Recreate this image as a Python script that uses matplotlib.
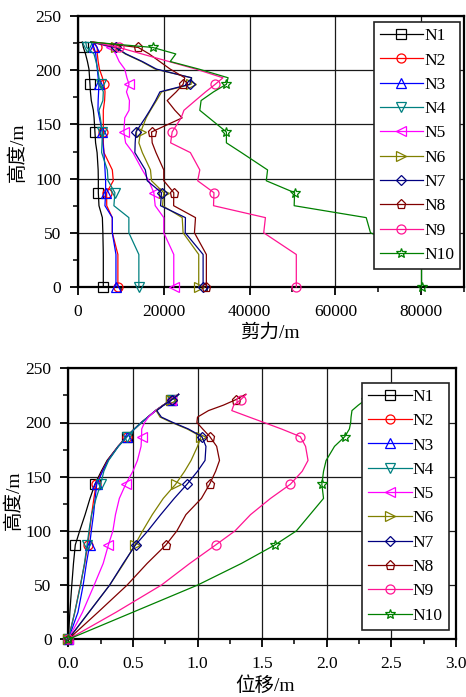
import matplotlib
matplotlib.use("Agg")
import matplotlib.pyplot as plt
from matplotlib.ticker import MultipleLocator, FixedLocator, FixedFormatter

plt.rcParams['font.family'] = ['Liberation Serif', 'Noto Sans CJK SC', 'DejaVu Sans']

# ---------------- data ----------------
series_names = ['N1', 'N2', 'N3', 'N4', 'N5', 'N6', 'N7', 'N8', 'N9', 'N10']
colors = ['#000000', '#FF0000', '#0000FF', '#008080', '#FF00FF',
          '#808000', '#000080', '#800000', '#FF1493', '#008000']
markers = ['s', 'o', '^', 'v', '<', '>', 'D', 'p', 'o', '*']

# shear force (top chart): heights (m)
shear_heights = [0, 30, 50, 64, 75, 87, 98, 108, 124, 133, 143, 156, 163, 172,
                 180, 187, 193, 201, 208, 215, 221, 226]
shear_N1 = [5900, 5900, 5800, 5680, 4890, 4740, 4740, 4700, 4450, 4100, 3950, 3750, 3580, 3100,
            2900, 2790, 2700, 2560, 2200, 1750, 1250, 1000]
shear_N2 = [9300, 9300, 8000, 8000, 6700, 6680, 8230, 8000, 6050, 5900, 5910, 5900, 5900, 6200,
            6300, 6050, 5700, 5000, 4700, 4500, 4500, 3500]
shear_N3 = [8850, 8850, 8000, 8000, 6280, 6440, 6440, 6300, 6050, 5800, 5680, 5000, 4650, 4700,
            4800, 4890, 4700, 4500, 4300, 4120, 3720, 3000]
shear_N4 = [14190, 14190, 11860, 11860, 8370, 8600, 7000, 6840, 5510, 5600, 5680, 5200, 4890, 5800,
            5900, 5280, 4890, 4600, 4200, 3720, 2020, 1800]
shear_N5 = [22330, 22330, 20000, 20000, 18000, 17680, 16500, 15000, 12800, 11100, 10700, 10900, 11900, 12000,
            11300, 11900, 11400, 10900, 9600, 8800, 7600, 3500]
shear_N6 = [28150, 28150, 24500, 24300, 19700, 20000, 17140, 16900, 15000, 14190, 14600, 15900, 16900, 18300,
            19500, 26370, 26500, 18000, 14800, 11000, 8800, 3000]
shear_N7 = [29170, 29170, 25000, 25050, 19240, 19470, 16140, 15700, 13260, 13330, 13500, 15670, 16770, 18080,
            19100, 26050, 26450, 18300, 15000, 11200, 8800, 3000]
shear_N8 = [29930, 29930, 27150, 27400, 22300, 22330, 20000, 20000, 18180, 17300, 17140, 24280, 22600, 20800,
            22900, 24500, 24900, 21500, 19050, 16600, 14050, 3500]
shear_N9 = [50900, 50900, 43300, 43700, 31600, 31700, 27900, 28400, 26200, 21600, 21950, 24050, 24700, 27360,
            29750, 32000, 33800, 27500, 21200, 14900, 9500, 3500]
shear_N10 = [80100, 80100, 68200, 67200, 50400, 50500, 43900, 44200, 38100, 34600, 34600, 30570, 28400, 28700,
             31600, 34600, 35000, 28200, 21500, 22800, 17400, 3000]

# displacement (bottom chart): heights (m)
disp_heights = [0, 25, 50, 70, 87, 100, 115, 130, 143, 155, 165, 178, 187, 194, 200, 205, 211, 216, 221, 226]
disp_N1 = [0, 0.012, 0.027, 0.040, 0.054, 0.088, 0.130, 0.168, 0.206, 0.255, 0.300, 0.385, 0.452, 0.510,
           0.565, 0.615, 0.675, 0.735, 0.798, 0.852]
disp_N2 = [0, 0.050, 0.093, 0.127, 0.150, 0.165, 0.180, 0.198, 0.215, 0.262, 0.305, 0.385, 0.452, 0.512,
           0.566, 0.616, 0.676, 0.736, 0.799, 0.853]
disp_N3 = [0, 0.075, 0.115, 0.140, 0.165, 0.178, 0.195, 0.208, 0.220, 0.265, 0.308, 0.387, 0.455, 0.512,
           0.566, 0.616, 0.676, 0.736, 0.799, 0.853]
disp_N4 = [0, 0.050, 0.095, 0.125, 0.145, 0.160, 0.180, 0.215, 0.250, 0.275, 0.312, 0.388, 0.455, 0.512,
           0.566, 0.616, 0.676, 0.736, 0.799, 0.853]
disp_N5 = [0, 0.110, 0.200, 0.270, 0.310, 0.345, 0.365, 0.395, 0.444, 0.500, 0.535, 0.563, 0.567, 0.568,
           0.590, 0.620, 0.675, 0.735, 0.798, 0.852]
disp_N6 = [0, 0.160, 0.320, 0.430, 0.515, 0.575, 0.650, 0.735, 0.830, 0.900, 0.950, 1.000, 1.028, 0.920,
           0.800, 0.710, 0.680, 0.735, 0.798, 0.852]
disp_N7 = [0, 0.160, 0.320, 0.425, 0.520, 0.615, 0.715, 0.820, 0.918, 1.000, 1.058, 1.065, 1.034, 0.930,
           0.810, 0.720, 0.685, 0.738, 0.800, 0.855]
disp_N8 = [0, 0.230, 0.455, 0.610, 0.755, 0.840, 0.910, 1.030, 1.093, 1.140, 1.170, 1.148, 1.095, 1.040,
           0.995, 1.000, 1.085, 1.200, 1.295, 1.372]
disp_N9 = [0, 0.370, 0.720, 0.940, 1.140, 1.290, 1.410, 1.565, 1.718, 1.810, 1.855, 1.836, 1.795, 1.650,
           1.514, 1.400, 1.265, 1.280, 1.334, 1.377]
disp_N10 = [0, 0.500, 1.000, 1.340, 1.598, 1.765, 1.870, 1.975, 1.962, 1.975, 1.995, 2.060, 2.140, 2.175,
            2.185, 2.188, 2.195, 2.244, 2.300, 2.360]

marker_heights = [0, 87, 143, 187, 221]

shear_xticks = [0, 20000, 40000, 60000, 80000]
shear_xticklabels = ['0', '20000', '40000', '60000', '80000']
disp_xticks = [0.0, 0.5, 1.0, 1.5, 2.0, 2.5, 3.0]
disp_xticklabels = ['0.0', '0.5', '1.0', '1.5', '2.0', '2.5', '3.0']
yticks = [0, 50, 100, 150, 200, 250]
yticklabels = ['0', '50', '100', '150', '200', '250']

shear_series = [shear_N1, shear_N2, shear_N3, shear_N4, shear_N5,
                shear_N6, shear_N7, shear_N8, shear_N9, shear_N10]
disp_series = [disp_N1, disp_N2, disp_N3, disp_N4, disp_N5,
               disp_N6, disp_N7, disp_N8, disp_N9, disp_N10]

# ---------------- figure ----------------
W, H = 466, 697
fig = plt.figure(figsize=(W / 100, H / 100), dpi=100)


def px_axes(left, top, right, bottom):
    return fig.add_axes([left / W, 1 - bottom / H, (right - left) / W, (bottom - top) / H])


ax1 = px_axes(78, 16, 464, 287)
ax2 = px_axes(68.3, 368.3, 456, 639.3)

TICK_FS = 12.5
LEG_FS = 12.5


def style_axes(ax, xlim, xticks, xlabels, xminor):
    ax.set_xlim(*xlim)
    ax.set_ylim(0, 250)
    ax.xaxis.set_major_locator(FixedLocator(xticks))
    ax.xaxis.set_major_formatter(FixedFormatter(xlabels))
    ax.xaxis.set_minor_locator(MultipleLocator(xminor))
    ax.yaxis.set_major_locator(FixedLocator(yticks))
    ax.yaxis.set_major_formatter(FixedFormatter(yticklabels))
    ax.yaxis.set_minor_locator(MultipleLocator(25))
    ax.grid(True, which='major', color='#1a1a1a', lw=0.9, zorder=0)
    ax.set_axisbelow(True)
    for s in ax.spines.values():
        s.set_linewidth(1.6)
        s.set_color('black')
    ax.tick_params(which='major', direction='out', length=6, width=1.3,
                   labelsize=TICK_FS, pad=6, top=False, right=False)
    ax.tick_params(which='minor', direction='out', length=3.5, width=1.1,
                   top=False, right=False)


def draw(ax, xs_list, heights):
    idx = [i for i, h in enumerate(heights) if h in marker_heights]
    handles = []
    for name, xs, c, m in zip(series_names, xs_list, colors, markers):
        ms = 7.5 if m == '*' else (5.5 if m == 'D' else 6.5)
        ln, = ax.plot(xs, heights, color=c, lw=0.9, marker=m, markevery=idx,
                      markersize=ms, markerfacecolor='none', markeredgecolor=c,
                      markeredgewidth=0.9, label=name, zorder=3, clip_on=False)
        handles.append(ln)
    return handles


style_axes(ax1, (0, 90000), shear_xticks, shear_xticklabels, 10000)
style_axes(ax2, (0, 3.0), disp_xticks, disp_xticklabels, 0.25)

draw(ax1, shear_series, shear_heights)
draw(ax2, disp_series, disp_heights)

for ax, anchor in ((ax1, (0.99, 0.978)), (ax2, (0.981, 0.947))):
    leg = ax.legend(loc='upper right', bbox_to_anchor=anchor, borderaxespad=0,
                    fontsize=LEG_FS, handlelength=2.5, handletextpad=0.05,
                    labelspacing=0.47, borderpad=0.35, numpoints=1,
                    fancybox=False, framealpha=1, edgecolor='#222222')
    leg.get_frame().set_linewidth(1.2)
    leg.set_zorder(10)

LAB_FS = 14
fig.text(17.5 / W, 1 - 152 / H, '高度/m', rotation=90, ha='center', va='center', fontsize=LAB_FS)
fig.text(270 / W, 1 - 333 / H, '剪力/m', ha='center', va='center', fontsize=LAB_FS)
fig.text(13.5 / W, 1 - 500 / H, '高度/m', rotation=90, ha='center', va='center', fontsize=LAB_FS)
fig.text(265 / W, 1 - 686 / H, '位移/m', ha='center', va='center', fontsize=LAB_FS)

fig.savefig('out.png', dpi=100)
